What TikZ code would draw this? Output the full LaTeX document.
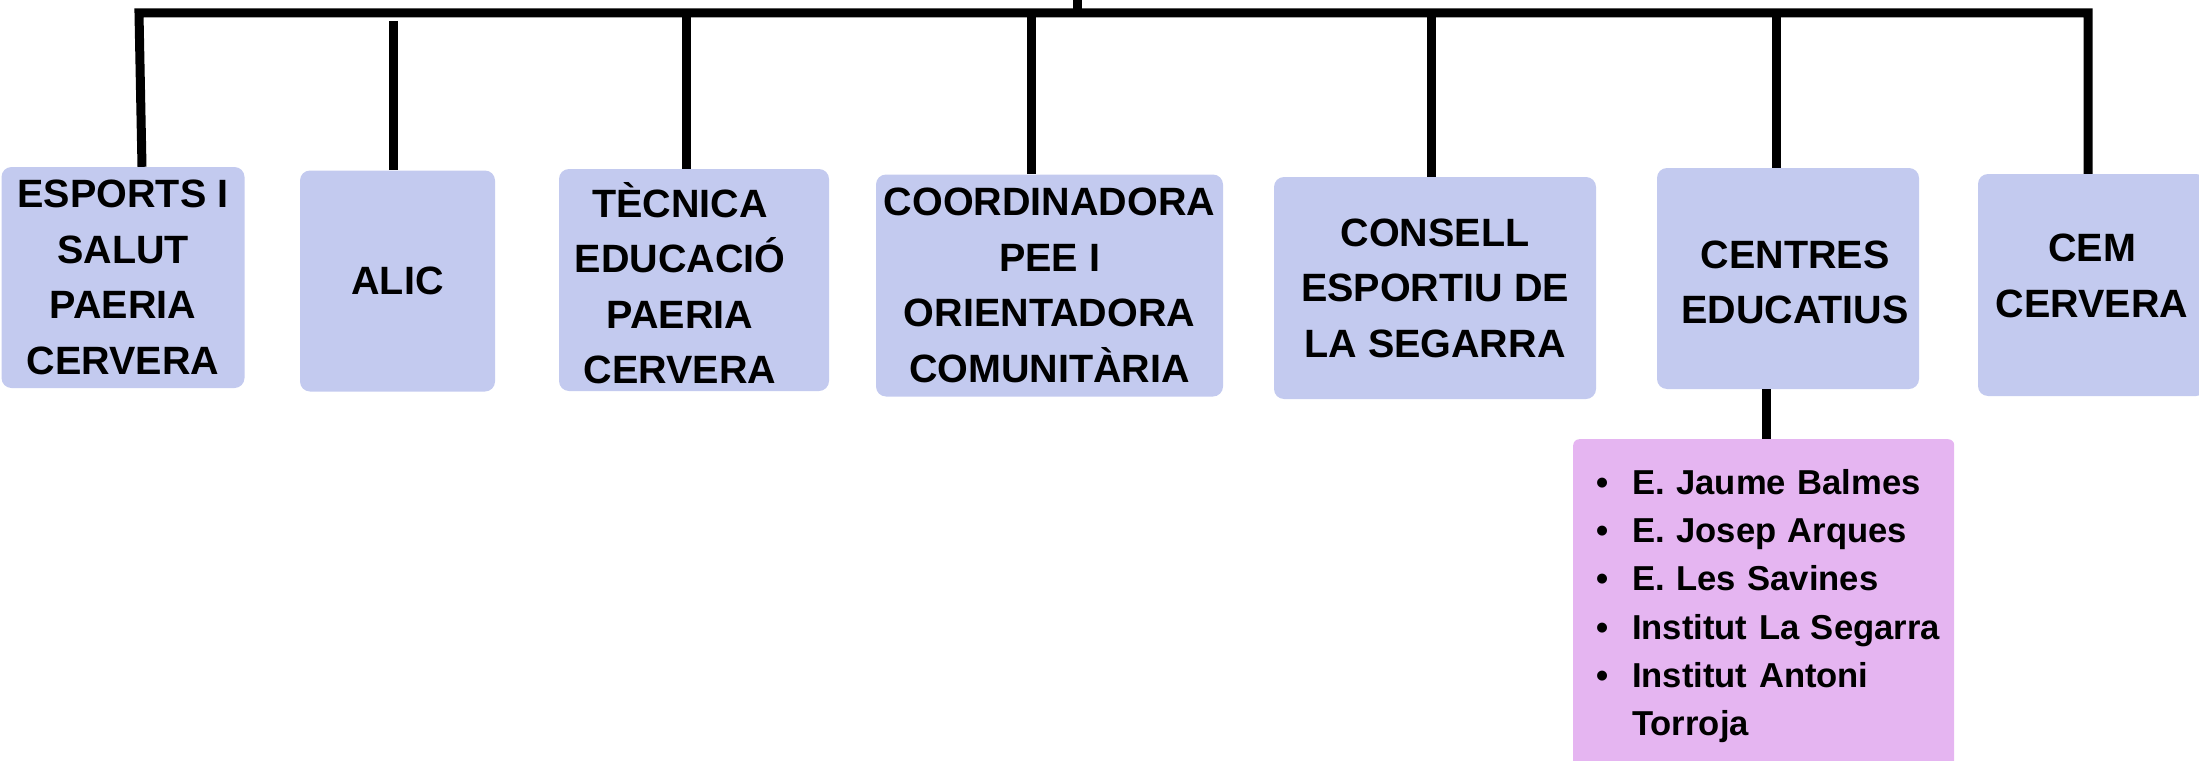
\documentclass[tikz,border=0pt]{standalone}
\usepackage{fontspec}
\setmainfont{Liberation Sans}
\usepackage{tikz}
\definecolor{unitblue}{RGB}{195,202,239}
\definecolor{unitpink}{RGB}{229,181,241}
\tikzstyle{unit}=[rectangle,fill=unitblue,rounded corners=10pt,inner sep=0pt,align=center,font=\bfseries\fontsize{39.5}{55.5}\selectfont]
\tikzstyle{tag}=[inner sep=0pt,align=center,font=\bfseries\fontsize{39.5}{55.5}\selectfont]
\tikzstyle{llista}=[rectangle,fill=unitpink,rounded corners=6pt,anchor=north west,inner xsep=0pt,inner ysep=30pt,text width=381pt,align=left,font=\bfseries\fontsize{34.6}{48.3}\selectfont]
\tikzstyle{link}=[line width=9pt,draw=black]
\newcommand{\bul}{\hspace*{59pt}\llap{\textbullet\hspace{24pt}}}

\begin{document}
\begin{tikzpicture}[x=1pt,y=-1pt]
    \useasboundingbox (0,0) rectangle (2199,760);
    \node[unit,minimum width=243pt,minimum height=221pt] at (123,277.5) (esports) {ESPORTS I\\SALUT\\PAERIA\\CERVERA};
    \node[unit,minimum width=195pt,minimum height=221pt] at (397.5,281) (alic) {ALIC};
    \node[unit,minimum width=270pt,minimum height=222pt,label={[tag,xshift=-14pt,yshift=-3pt]center:TÈCNICA\\EDUCACIÓ\\PAERIA\\CERVERA}] at (694,280) (tecnica) {};
    \node[unit,minimum width=347pt,minimum height=222pt] at (1049.5,285.5) (coord) {COORDINADORA\\PEE I\\ORIENTADORA\\COMUNITÀRIA};
    \node[unit,minimum width=322pt,minimum height=222pt] at (1435,288) (consell) {CONSELL\\ESPORTIU DE\\LA SEGARRA};
    \node[unit,minimum width=262pt,minimum height=221pt,label={[tag,xshift=7pt,yshift=-4pt]center:CENTRES\\EDUCATIUS}] at (1788,278.5) (centres) {};
    \node[unit,minimum width=228pt,minimum height=222pt,label={[tag,yshift=9pt]center:CEM\\CERVERA}] at (2092,285) (cem) {};
    \node[llista] at (1573,439) (escoles) {\bul E. Jaume Balmes\\\bul E. Josep Arques\\\bul E. Les Savines\\\bul Institut La Segarra\\\bul Institut Antoni\\\hspace*{59pt}Torroja};
    \coordinate (top) at (1077,0);
    \coordinate (hub) at (1077,13);
    \coordinate (barL) at (139,13);
    \coordinate (barR) at (2088,13);
    \coordinate (j1) at (142,0);
    \coordinate (j2) at (393,21);
    \coordinate (j3) at (686,13);
    \coordinate (j4) at (1031,13);
    \coordinate (j5) at (1431,13);
    \coordinate (j6) at (1776,13);
    \coordinate (j8) at (1766,0);
    \draw[link] (top) to (hub);
    \draw[link] (esports.north -| j1) -- (barL) -- (barR) -- (cem.north -| barR);
    \draw[link] (j2) to (j2 |- alic.north);
    \draw[link] (j3) to (j3 |- tecnica.north);
    \draw[link] (j4) to (j4 |- coord.north);
    \draw[link] (j5) to (j5 |- consell.north);
    \draw[link] (j6) to (j6 |- centres.north);
    \draw[link] (j8 |- centres.south) to (j8 |- escoles.north);
  \end{tikzpicture}
\end{document}
